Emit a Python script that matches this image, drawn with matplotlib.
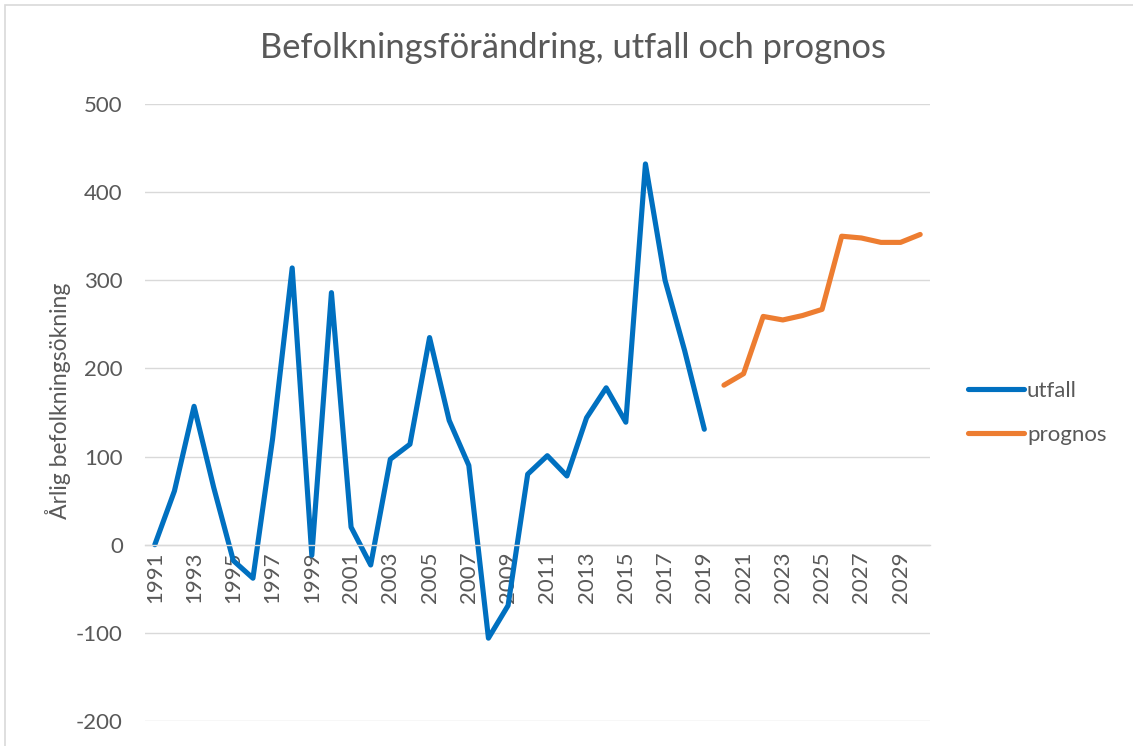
import matplotlib
matplotlib.use("Agg")
import matplotlib.pyplot as plt
from matplotlib.patches import Rectangle

# årtal och värden
ar_utfall = list(range(1991, 2020))
utfall = [0, 61, 157, 65, -18, -38, 120, 314, -12, 286,
          20, -23, 97, 114, 235, 141, 90, -106, -69, 80,
          101, 78, 144, 178, 139, 432, 300, 220, 131]

ar_prognos = list(range(2020, 2031))
prognos = [181, 194, 259, 255, 260, 267, 350, 348, 343, 343, 352]

y_ticks = [-200, -100, 0, 100, 200, 300, 400, 500]
x_ticks = list(range(1991, 2031, 2))

BLA = "#0070C0"
ORANGE = "#ED7D31"
GRID = "#D9D9D9"
TEXT = "#595959"

plt.rcParams['font.family'] = ['Lato', 'DejaVu Sans']
plt.rcParams['axes.unicode_minus'] = False

fig = plt.figure(figsize=(11.33, 7.46), dpi=100)
ax = fig.add_axes([145 / 1133, 1 - 721 / 746, (930 - 145) / 1133, (721 - 104) / 746])

ax.plot(ar_utfall, utfall, color=BLA, lw=3.7, solid_joinstyle='round',
        solid_capstyle='round', label='utfall')
ax.plot(ar_prognos, prognos, color=ORANGE, lw=3.7, solid_joinstyle='round',
        solid_capstyle='round', label='prognos')

ax.set_xlim(1990.5, 2030.5)
ax.set_ylim(-200, 500)
ax.set_yticks(y_ticks)
ax.set_xticks(x_ticks)
ax.set_xticklabels([str(a) for a in x_ticks])
ax.grid(axis='y', color=GRID, lw=1.0)
ax.set_axisbelow(True)

for s in ['top', 'right', 'left']:
    ax.spines[s].set_visible(False)
ax.spines['bottom'].set_position(('data', 0))
ax.spines['bottom'].set_color(GRID)
ax.spines['bottom'].set_linewidth(1.0)

ax.tick_params(axis='both', length=0, labelsize=16, labelcolor=TEXT)
ax.tick_params(axis='y', pad=16)
ax.tick_params(axis='x', pad=5, labelrotation=90)

fig.text(573 / 1133, 1 - 48 / 746, "Befolkningsförändring, utfall och prognos",
         ha='center', va='center', fontsize=24.8, color=TEXT)
fig.text(58 / 1133, 1 - 401 / 746, "Årlig befolkningsökning", rotation=90,
         ha='center', va='center', fontsize=16.5, color=TEXT)

fig.legend(loc='center left', bbox_to_anchor=(968 / 1133, 1 - 413 / 746),
           frameon=False, fontsize=16, labelcolor=TEXT, handlelength=2.5,
           handletextpad=0.15, labelspacing=1.1, borderpad=0, borderaxespad=0)

# ljusgrå ram runt diagrammet (beskuren till höger och nedtill)
fig.patches.append(Rectangle((5 / 1133, -0.05), 1.2, 1 - 5 / 746 + 0.05, fill=False,
                             edgecolor=GRID, lw=1.2, transform=fig.transFigure))

fig.savefig("out.png", dpi=100)
